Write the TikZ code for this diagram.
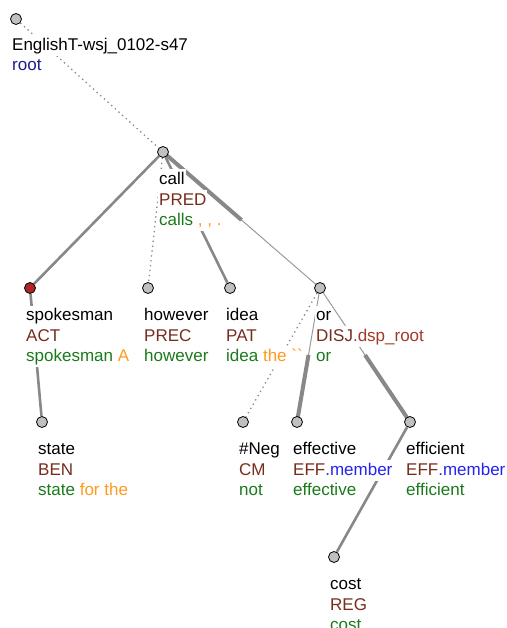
\documentclass[tikz,border=0pt]{standalone}
\usepackage{fontspec}
\setmainfont{Liberation Sans}
\usetikzlibrary{calc,backgrounds}

\definecolor{nodegray}{HTML}{C0C0C0}
\definecolor{edgegray}{HTML}{888888}
\definecolor{thingray}{HTML}{9A9A9A}
\definecolor{actred}{HTML}{B02525}
\definecolor{functor}{HTML}{772C1E}
\definecolor{subfunctor}{HTML}{A3392A}
\definecolor{member}{HTML}{2424EE}
\definecolor{rootblue}{HTML}{1C1C8C}
\definecolor{formgreen}{HTML}{1B7A1B}
\definecolor{auxorange}{HTML}{FF9A1F}

\newcommand\fn[1]{\textcolor{functor}{#1}}
\newcommand\fm[1]{\textcolor{formgreen}{#1}}
\newcommand\fa[1]{\textcolor{auxorange}{#1}}

% three text rows under a tree node: lemma, functor, surface form
\newcommand\treelabel[6]{%
  \node[row] (#1-lemma)   at (#2-5,#3+32.5) {#4};
  \node[row] (#1-functor) at (#2-5,#3+53)   {#5};
  \node[row] (#1-form)    at (#2-5,#3+73.5) {#6};
}

\begin{document}
\begin{tikzpicture}[x=1pt,y=-1pt,
  tnode/.style={circle, draw=black, line width=0.8pt, fill=nodegray,
    minimum size=11pt, inner sep=0pt},
  row/.style={anchor=base west, inner xsep=1pt, inner ysep=0pt,
    text height=15pt, text depth=5.5pt, fill=white,
    font=\fontsize{17}{20}\selectfont},
  edge/.style={draw=edgegray, line width=2.6pt},
  thinedge/.style={draw=thingray, line width=1pt},
  coordthick/.style={draw=edgegray, line width=4pt},
  dotedge/.style={draw=edgegray, line width=1.3pt,
    dash pattern=on 1.3pt off 3.6pt}]
\useasboundingbox (0,0) rectangle (506,628);

% tree nodes
\node[tnode] (root)      at (16,19)   {};
\node[tnode] (call)      at (163,152) {};
\node[tnode, fill=actred] (spokesman) at (30,288) {};
\node[tnode] (however)   at (148,288) {};
\node[tnode] (idea)      at (230,288) {};
\node[tnode] (or)        at (320,288) {};
\node[tnode] (state)     at (42,422)  {};
\node[tnode] (neg)       at (243,422) {};
\node[tnode] (effective) at (297,422) {};
\node[tnode] (efficient) at (410,422) {};
\node[tnode] (cost)      at (334,557) {};

% labels
\node[row] (root-lemma)   at (11,50.5) {EnglishT-wsj\_0102-s47};
\node[row] (root-functor) at (11,71)   {\textcolor{rootblue}{root}};
\treelabel{call}{163}{152}{call}{\fn{PRED}}{\fm{calls} \fa{, , .}}
\treelabel{spokesman}{30}{288}{spokesman}{\fn{ACT}}{\fm{spokesman} \fa{A}}
\treelabel{however}{148}{288}{however}{\fn{PREC}}{\fm{however}}
\treelabel{idea}{230}{288}{idea}{\fn{PAT}}{\fm{idea} \fa{the \textasciigrave\textasciigrave}}
\treelabel{or}{320}{288}{or}{\fn{DISJ}\textcolor{subfunctor}{.dsp\_root}}{\fm{or}}
\treelabel{state}{42}{422}{state}{\fn{BEN}}{\fm{state} \fa{for the}}
\treelabel{neg}{243}{422}{\#Neg}{\fn{CM}}{\fm{not}}
\treelabel{effective}{297}{422}{effective}{\fn{EFF}\textcolor{member}{.member}}{\fm{effective}}
\treelabel{efficient}{410}{422}{efficient}{\fn{EFF}\textcolor{member}{.member}}{\fm{efficient}}
\treelabel{cost}{334}{557}{cost}{\fn{REG}}{\fm{cost}}

% edges, behind labels and nodes
\begin{pgfonlayer}{background}
  \draw[dotedge] (root) -- (call);
  \draw[edge] (call) -- (spokesman);
  \draw[dotedge] (call) -- (however);
  \draw[edge] (call) -- (idea);
  \draw[thinedge] (call) -- (or);
  \draw[coordthick] (call.center) -- ($(call)!0.5!(or)$);
  \draw[edge] (spokesman) -- (state);
  \draw[dotedge] (or) -- (neg);
  \draw[thinedge] (or) -- (effective);
  \draw[coordthick] ($(or)!0.5!(effective)$) -- (effective.center);
  \draw[thinedge] (or) -- (efficient);
  \draw[coordthick] ($(or)!0.5!(efficient)$) -- (efficient.center);
  \draw[edge] (efficient) -- (cost);
\end{pgfonlayer}
\end{tikzpicture}
\end{document}
